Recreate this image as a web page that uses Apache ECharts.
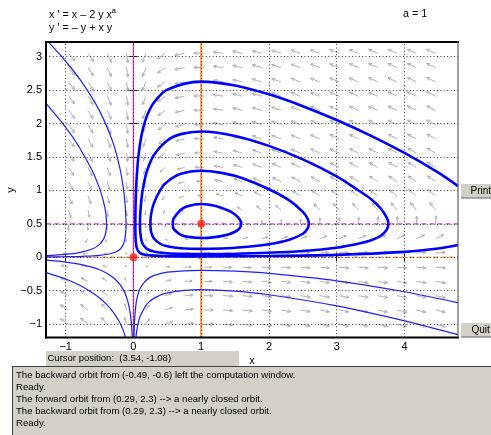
<!DOCTYPE html>
<html><head><meta charset="utf-8">
<script src="https://cdn.jsdelivr.net/npm/echarts@6/dist/echarts.min.js"></script>
<style>html,body{margin:0;padding:0;background:#fff;}#c{width:491px;height:435px;}</style>
</head><body><div id="c"></div>
<script>
// ---- axes / ticks ----
const xRange = [-1.29, 4.79];
const yRange = [-1.2, 3.22];
const xTicks = [-1, 0, 1, 2, 3, 4];
const yTicks = [-1, -0.5, 0, 0.5, 1, 1.5, 2, 2.5, 3];
const xTickLabels = ['−1', '0', '1', '2', '3', '4'];
const yTickLabels = ['−1', '−0.5', '0', '0.5', '1', '1.5', '2', '2.5', '3'];

// ---- system: x' = x - 2 y x^a, y' = -y + x y ----
const paramA = 1;
const fieldCols = [-0.957, -0.672, -0.387, -0.102, 0.183, 0.469, 0.754, 1.039, 1.324, 1.609, 1.894, 2.179, 2.464, 2.749, 3.034, 3.320, 3.605, 3.890, 4.175, 4.460];
const fieldRows = [3.05, 2.837, 2.624, 2.410, 2.197, 1.984, 1.771, 1.558, 1.344, 1.131, 0.918, 0.705, 0.492, 0.278, 0.065, -0.148, -0.361, -0.574, -0.788, -1.001];

// ---- nullclines and equilibria ----
const nullXdotV = [[0, -1.2], [0, 3.22]];
const nullXdotH = [[-1.29, 0.5], [-0.09, 0.5], [-0.02, 0.472]];
const nullXdotH2 = [[0, 0.5], [4.79, 0.5]];
const nullYdotV = [[1, -1.2], [1, 3.22]];
const nullYdotH = [[-1.29, 0], [0.93, 0], [1, -0.03]];
const nullYdotH2 = [[1, 0], [4.79, 0]];
const equilibria = [[0, 0], [1, 0.5]];

// ---- closed orbits (thick) ----
const orbit1 = [[0.579,0.5],[0.585,0.553],[0.6,0.59],[0.7,0.71],[0.8,0.764],[1.0,0.797],[1.2,0.77],[1.4,0.70],[1.5,0.64],[1.55,0.59],[1.58,0.545],[1.588,0.5],[1.58,0.457],[1.55,0.415],[1.5,0.382],[1.4,0.342],[1.2,0.301],[1.0,0.288],[0.8,0.305],[0.7,0.335],[0.6,0.415],[0.585,0.45],[0.579,0.5]];
const orbit2 = [[0.25,0.5],[0.26,0.638],[0.3,0.802],[0.4,1.012],[0.5,1.13],[0.7,1.248],[1.0,1.294],[1.3,1.262],[1.6,1.185],[2.0,1.018],[2.3,0.851],[2.5,0.68],[2.57,0.578],[2.588,0.5],[2.57,0.43],[2.5,0.352],[2.3,0.262],[2.0,0.1955],[1.6,0.1495],[1.3,0.1315],[1.0,0.1255],[0.7,0.135],[0.5,0.164],[0.4,0.1985],[0.3,0.2855],[0.26,0.381],[0.25,0.5]];
const orbit3 = [[0.0962,0.5],[0.098,0.59],[0.1,0.64],[0.12,0.882],[0.15,1.08],[0.2,1.288],[0.3,1.525],[0.5,1.748],[0.7,1.842],[1.0,1.881],[1.5,1.815],[2.0,1.666],[2.5,1.464],[3.0,1.21],[3.3,1.014],[3.5,0.875],[3.65,0.73],[3.74,0.59],[3.763,0.5],[3.74,0.415],[3.65,0.322],[3.5,0.2505],[3.3,0.1985],[3.0,0.143],[2.5,0.0948],[2.0,0.068],[1.5,0.0533],[1.0,0.0487],[0.7,0.0513],[0.5,0.0598],[0.3,0.086],[0.2,0.1265],[0.15,0.178],[0.12,0.248],[0.1,0.38],[0.098,0.415],[0.0962,0.5]];
const orbit4 = [[4.79,0.183],[4.5,0.131],[4.0,0.081],[3.0,0.0363],[2.0,0.0194],[1.0,0.0141],[0.5,0.0172],[0.2,0.0328],[0.14,0.0452],[0.1,0.063],[0.07,0.093],[0.05,0.14],[0.042,0.179],[0.035,0.24],[0.03,0.345],[0.0282,0.5],[0.03,0.69],[0.035,0.9],[0.042,1.075],[0.05,1.22],[0.07,1.475],[0.1,1.71],[0.14,1.918],[0.2,2.115],[0.3,2.312],[0.5,2.508],[1.0,2.628],[1.5,2.57],[2.0,2.437],[2.5,2.26],[3.0,2.053],[3.5,1.82],[4.0,1.56],[4.5,1.265],[4.79,1.065]];

// ---- other orbits (thin) ----
const orbitUL1 = [[-1.263,3.229],[-1.0,2.932],[-0.75,2.605],[-0.5,2.19],[-0.3,1.711],[-0.2,1.333],[-0.15,1.044],[-0.13,0.87],[-0.12,0.752],[-0.111,0.568],[-0.11,0.5],[-0.111,0.435],[-0.12,0.313],[-0.13,0.25],[-0.15,0.1895],[-0.2,0.117],[-0.3,0.0634],[-0.5,0.029],[-0.75,0.0147],[-1.0,0.0085],[-1.29,0.0049]];
const orbitUL2 = [[-1.287,2.297],[-1.0,1.944],[-0.8,1.65],[-0.6,1.28],[-0.5,1.03],[-0.45,0.865],[-0.42,0.73],[-0.405,0.638],[-0.396,0.5],[-0.405,0.381],[-0.42,0.322],[-0.45,0.256],[-0.5,0.193],[-0.6,0.128],[-0.8,0.07],[-1.0,0.0435],[-1.29,0.0243]];
const orbitLL1 = [[-1.29,-0.229],[-1.0,-0.3255],[-0.8,-0.415],[-0.6,-0.534],[-0.5,-0.609],[-0.4,-0.7005],[-0.3,-0.8175],[-0.2,-0.979],[-0.15,-1.093],[-0.1133,-1.206]];
const orbitLL2 = [[-1.29,-0.0437],[-1.0,-0.0712],[-0.8,-0.102],[-0.6,-0.1505],[-0.5,-0.1865],[-0.4,-0.234],[-0.3,-0.3015],[-0.25,-0.347],[-0.2,-0.4057],[-0.15,-0.4855],[-0.1,-0.604],[-0.07,-0.7135],[-0.05,-0.821],[-0.035,-0.94],[-0.025,-1.055],[-0.0166,-1.206]];
const orbitLR1 = [[4.79,-0.681],[4.0,-0.516],[3.0,-0.352],[2.0,-0.2415],[1.5,-0.2085],[1.0,-0.195],[0.5,-0.2235],[0.3,-0.275],[0.2,-0.3325],[0.1,-0.464],[0.05,-0.631],[0.03,-0.774],[0.02,-0.898],[0.015,-0.99],[0.012,-1.064],[0.0105,-1.11],[0.0079,-1.206]];
const orbitLR2 = [[4.79,-1.158],[4.0,-0.951],[3.0,-0.728],[2.0,-0.561],[1.5,-0.5065],[1.0,-0.483],[0.5,-0.5315],[0.3,-0.6145],[0.2,-0.701],[0.1,-0.883],[0.07,-0.989],[0.05,-1.096],[0.04,-1.17],[0.036,-1.206]];

// ---- texts ----
const eqLine1 = "x ' = x – 2 y x";
const eqSup = 'a';
const eqLine2 = "y ' = – y + x y";
const paramText = 'a = 1';
const cursorText = 'Cursor position:  (3.54, -1.08)';
const messages = [
  'The backward orbit from (-0.49, -0.6) left the computation window.',
  'Ready.',
  'The forward orbit from (0.29, 2.3) --> a nearly closed orbit.',
  'The backward orbit from (0.29, 2.3) --> a nearly closed orbit.',
  'Ready.'
];

const FONT = '"Liberation Sans", Arial, sans-serif';
const G = {left: 46, top: 42, width: 412, height: 295.5};

const fieldData = [];
fieldRows.forEach(y => fieldCols.forEach(x => {
  const u = x - 2 * y * Math.pow(x, paramA);
  const v = -y + x * y;
  fieldData.push([x, y, u, v]);
}));

function arrowItem(params, api) {
  const x = api.value(0), y = api.value(1), u = api.value(2), v = api.value(3);
  const p = api.coord([x, y]);
  const sx = api.size([1, 0])[0], sy = api.size([0, 1])[1];
  let dx = u * sx, dy = -v * sy;
  const n = Math.hypot(dx, dy);
  if (n === 0) return null;
  dx /= n; dy /= n;
  const m = Math.hypot(u, v);
  const L = 10 * (1 - Math.exp(-m / 0.9));
  const tip = [p[0] + dx * L, p[1] + dy * L];
  const h = Math.max(1.5, L * 0.38), c = Math.cos(0.42), s = Math.sin(0.42);
  const b1 = [tip[0] - h * (dx * c - dy * s), tip[1] - h * (dy * c + dx * s)];
  const b2 = [tip[0] - h * (dx * c + dy * s), tip[1] - h * (dy * c - dx * s)];
  const st = {stroke: '#b3b3b3', lineWidth: 1, fill: null};
  return {type: 'group', children: [
    {type: 'line', shape: {x1: p[0], y1: p[1], x2: tip[0], y2: tip[1]}, style: st},
    {type: 'polyline', shape: {points: [b1, tip, b2]}, style: st}
  ]};
}

function lineSeries(data, color, width, dashed, z, smooth) {
  return {type: 'line', data: data, showSymbol: false, symbol: 'none', smooth: smooth || 0,
    lineStyle: {color: color, width: width, type: dashed ? [5, 3] : 'solid'}, z: z, silent: true, clip: true};
}

const thick = '#0000ff', thin = '#1f1fff', magenta = '#e23bc8', orange = '#f2a24a';

const series = [
  {type: 'line', data: [], z: 1, silent: true,
   markLine: {silent: true, symbol: ['none', 'none'], label: {show: false},
     lineStyle: {color: '#3a3a3a', width: 1, type: [1, 2.4]},
     data: xTicks.map(v => ({xAxis: v})).concat(yTicks.map(v => ({yAxis: v})))}},
  {type: 'custom', data: fieldData, renderItem: arrowItem, z: 2, silent: true, clip: true},
  lineSeries(nullXdotH, magenta, 1.3, true, 3),
  lineSeries(nullXdotH2, magenta, 1.3, true, 3),
  lineSeries(nullYdotH, orange, 1.3, true, 3),
  lineSeries(nullYdotH2, orange, 1.3, true, 3),
  lineSeries(nullXdotV, magenta, 1.4, false, 3),
  lineSeries(nullYdotV, orange, 2.2, false, 3),
  lineSeries(orbitUL1, thin, 1.2, false, 4, 0.3),
  lineSeries(orbitUL2, thin, 1.2, false, 4, 0.3),
  lineSeries(orbitLL1, thin, 1.2, false, 4, 0.3),
  lineSeries(orbitLL2, thin, 1.2, false, 4, 0.3),
  lineSeries(orbitLR1, thin, 1.2, false, 4, 0.3),
  lineSeries(orbitLR2, thin, 1.2, false, 4, 0.3),
  lineSeries(orbit1, thick, 2.6, false, 5, 0.3),
  lineSeries(orbit2, thick, 2.6, false, 5, 0.3),
  lineSeries(orbit3, thick, 2.6, false, 5, 0.3),
  lineSeries(orbit4, thick, 2.6, false, 5, 0.3),
  {type: 'scatter', data: equilibria, symbol: 'circle', symbolSize: 8, itemStyle: {color: '#ff1a1a'}, z: 6, silent: true}
];

function txt(x, y, text, size, extra) {
  return Object.assign({type: 'text', x: x, y: y, z: 100, silent: true,
    style: {text: text, fill: '#000', font: size + 'px ' + FONT, align: 'left', verticalAlign: 'middle'}}, extra || {});
}

const graphics = [
  // frame
  {type: 'line', z: 50, silent: true, shape: {x1: 45, y1: 42, x2: 459, y2: 42}, style: {stroke: '#000', lineWidth: 2}},
  {type: 'line', z: 50, silent: true, shape: {x1: 46, y1: 41, x2: 46, y2: 338.5}, style: {stroke: '#000', lineWidth: 2}},
  {type: 'line', z: 50, silent: true, shape: {x1: 45, y1: 337.5, x2: 459, y2: 337.5}, style: {stroke: '#000', lineWidth: 2}},
  {type: 'line', z: 50, silent: true, shape: {x1: 458, y1: 41, x2: 458, y2: 338.5}, style: {stroke: '#444', lineWidth: 1}},
  // titles
  txt(49, 15, eqLine1, 10.8),
  txt(111.5, 11, eqSup, 8),
  txt(49, 28.5, eqLine2, 10.8),
  txt(403, 14, paramText, 10.8),
  // axis names
  txt(252, 361, 'x', 11, {style: {text: 'x', fill: '#000', font: '11px ' + FONT, align: 'center', verticalAlign: 'middle'}}),
  {type: 'text', x: 11, y: 190, rotation: Math.PI / 2, z: 100, silent: true,
   style: {text: 'y', fill: '#000', font: '11px ' + FONT, align: 'center', verticalAlign: 'middle'}},
  // buttons
  {type: 'rect', z: 90, silent: true, shape: {x: 461, y: 183, width: 32, height: 15}, style: {fill: '#d4d0c8', stroke: null}},
  {type: 'line', z: 91, silent: true, shape: {x1: 461, y1: 198, x2: 491, y2: 198}, style: {stroke: '#606060', lineWidth: 1}},
  {type: 'line', z: 91, silent: true, shape: {x1: 461, y1: 183.5, x2: 491, y2: 183.5}, style: {stroke: '#ffffff', lineWidth: 1}},
  txt(470.5, 191, 'Print', 10),
  {type: 'rect', z: 90, silent: true, shape: {x: 461, y: 322, width: 32, height: 15}, style: {fill: '#d4d0c8', stroke: null}},
  {type: 'line', z: 91, silent: true, shape: {x1: 461, y1: 337, x2: 491, y2: 337}, style: {stroke: '#606060', lineWidth: 1}},
  {type: 'line', z: 91, silent: true, shape: {x1: 461, y1: 322.5, x2: 491, y2: 322.5}, style: {stroke: '#ffffff', lineWidth: 1}},
  txt(471.5, 330, 'Quit', 10),
  // cursor box
  {type: 'rect', z: 90, silent: true, shape: {x: 46, y: 351, width: 193, height: 16}, style: {fill: '#d4d0c8', stroke: null}},
  txt(47.5, 358, cursorText, 9.5),
  // message box
  {type: 'rect', z: 90, silent: true, shape: {x: 12, y: 366.5, width: 480, height: 70}, style: {fill: '#d4d0c8', stroke: null}},
  {type: 'line', z: 91, silent: true, shape: {x1: 12, y1: 366.5, x2: 491, y2: 366.5}, style: {stroke: '#404040', lineWidth: 1}},
  {type: 'line', z: 91, silent: true, shape: {x1: 12.5, y1: 366, x2: 12.5, y2: 435}, style: {stroke: '#404040', lineWidth: 1}}
];
messages.forEach((m, i) => graphics.push(txt(16, 375.5 + i * 12, m, 9.6)));

const chart = echarts.init(document.getElementById('c'), null, {renderer: 'canvas'});
chart.setOption({
  animation: false,
  backgroundColor: '#fff',
  grid: Object.assign({show: false}, G),
  xAxis: [
    {type: 'value', min: xRange[0], max: xRange[1], position: 'bottom',
     axisLine: {show: false}, splitLine: {show: false},
     axisTick: {show: true, inside: true, length: 4, customValues: xTicks, lineStyle: {color: '#000'}},
     axisLabel: {show: true, customValues: xTicks, margin: 4, color: '#000', fontSize: 11, fontFamily: FONT,
       formatter: v => xTickLabels[xTicks.indexOf(Math.round(v * 1000) / 1000)] ?? ''}},
    {type: 'value', min: xRange[0], max: xRange[1], position: 'top',
     axisLine: {show: false}, splitLine: {show: false}, axisLabel: {show: false},
     axisTick: {show: true, inside: true, length: 4, customValues: xTicks, lineStyle: {color: '#000'}}}
  ],
  yAxis: [
    {type: 'value', min: yRange[0], max: yRange[1], position: 'left',
     axisLine: {show: false}, splitLine: {show: false},
     axisTick: {show: true, inside: true, length: 4, customValues: yTicks, lineStyle: {color: '#000'}},
     axisLabel: {show: true, customValues: yTicks, margin: 4, color: '#000', fontSize: 11, fontFamily: FONT,
       formatter: v => yTickLabels[yTicks.indexOf(Math.round(v * 1000) / 1000)] ?? ''}},
    {type: 'value', min: yRange[0], max: yRange[1], position: 'right',
     axisLine: {show: false}, splitLine: {show: false}, axisLabel: {show: false},
     axisTick: {show: true, inside: true, length: 4, customValues: yTicks, lineStyle: {color: '#000'}}}
  ],
  series: series,
  graphic: graphics
});
</script></body></html>
